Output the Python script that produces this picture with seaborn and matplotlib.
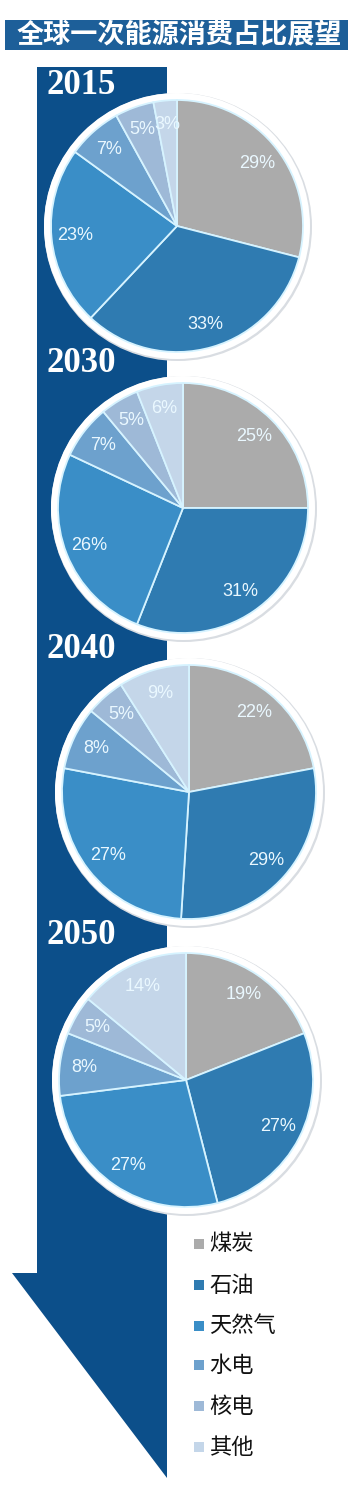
import matplotlib
matplotlib.use("Agg")
import matplotlib.pyplot as plt
from matplotlib.patches import Rectangle, Polygon, Circle
import seaborn as sns

# ---- data ----
title = "全球一次能源消费占比展望"
categories = ["煤炭", "石油", "天然气", "水电", "核电", "其他"]
years = ["2015", "2030", "2040", "2050"]
share_2015 = [29, 33, 23, 7, 5, 3]
share_2030 = [25, 31, 26, 7, 5, 6]
share_2040 = [22, 29, 27, 8, 5, 9]
share_2050 = [19, 27, 27, 8, 5, 14]
shares = [share_2015, share_2030, share_2040, share_2050]

# ---- style ----
sns.set_theme(style="white")
plt.rcParams['font.family'] = ['Noto Sans CJK SC', 'DejaVu Sans']
palette = sns.color_palette(["#ABABAB", "#2F7BB1", "#3A8EC7", "#6DA1CD", "#9EB9D7", "#C4D6E9"])
band_color = "#0C4F8A"
title_bg = "#1D5F99"

W, H = 360, 1488
fig = plt.figure(figsize=(W / 100, H / 100), dpi=100)
ax = fig.add_axes([0, 0, 1, 1])
fy = lambda y: H - y

# title box
ax.add_patch(Rectangle((5, fy(50)), 343, 30, facecolor=title_bg, edgecolor="none", zorder=1))
ax.text(179, fy(35), title, color="white", fontsize=19.5, fontweight="bold",
        ha="center", va="center", zorder=2)

# arrow band
ax.add_patch(Rectangle((37, fy(1273)), 130, 1273 - 67, facecolor=band_color, edgecolor="none", zorder=1))
ax.add_patch(Polygon([(12, fy(1273)), (167, fy(1273)), (167, fy(1478))], closed=True,
                     facecolor=band_color, edgecolor="none", zorder=1))

# pies
centers = [(177, 226), (183, 508), (189, 792), (186, 1080)]
radii = [126, 125, 127, 127]
year_y = [86, 364, 649, 936]

for vals, (cx, cy), r, yr, yy in zip(shares, centers, radii, years, year_y):
    ax.text(47, fy(yy), yr, color="white", fontsize=25, family="Liberation Serif",
            fontweight="bold", ha="left", va="center", zorder=3)
    ax.add_patch(Circle((cx + 1, fy(cy) - 1), r + 8, facecolor="#d9dde2", edgecolor="none", zorder=2))
    ax.add_patch(Circle((cx, fy(cy)), r + 7, facecolor="white", edgecolor="none", zorder=2))
    wedges, texts, autotexts = ax.pie(
        vals, colors=palette, startangle=90, counterclock=False,
        center=(cx, fy(cy)), radius=r, frame=True,
        autopct=lambda p: f"{p:.0f}%", pctdistance=0.81,
        wedgeprops=dict(edgecolor="#d6f3ff", linewidth=1.3),
        textprops=dict(color="#eaf8ff", fontsize=13, family="Liberation Sans"),
    )
    for w in wedges:
        w.set_zorder(4)
    for t in autotexts:
        t.set_zorder(5)

# legend
leg_y = [1244, 1285, 1326, 1365, 1406, 1447]
for c, lab, ly in zip(palette, categories, leg_y):
    ax.scatter([199], [fy(ly)], marker="s", s=50, color=c, zorder=3, linewidths=0)
    ax.text(209, fy(ly), lab, fontsize=16, color="#111111", ha="left", va="center", zorder=3)

ax.set_xlim(0, W)
ax.set_ylim(0, H)
ax.set_aspect("equal")
ax.set_axis_off()

fig.savefig("out.png", dpi=100)
